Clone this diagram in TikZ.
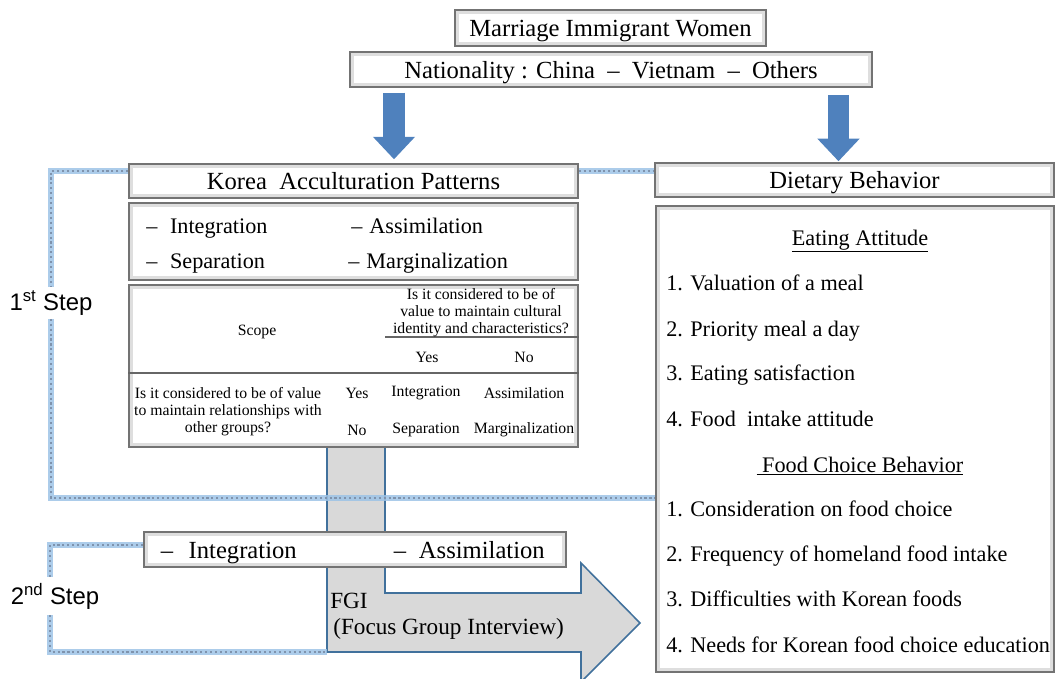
\documentclass[tikz,border=0pt]{standalone}
\usepackage{fontspec}
\setmainfont{Liberation Serif}
\setsansfont{Liberation Sans}
\usetikzlibrary{arrows.meta}

\definecolor{arrowblue}{HTML}{4F81BD}
\definecolor{glowblue}{HTML}{9DC3E6}
\definecolor{dotblue}{HTML}{7F93AD}
\definecolor{fgiline}{HTML}{41719C}
\definecolor{fgifill}{HTML}{D9D9D9}

\tikzset{
	panel/.style={draw=black!55, line width=1.1pt, fill=white, inner sep=0pt, text height=12.5pt, text depth=0pt,
		path picture={\draw[black!13, line width=5pt] (path picture bounding box.south west) rectangle (path picture bounding box.north east);
			\draw[black!22, line width=2pt] (path picture bounding box.south west) rectangle (path picture bounding box.north east);}},
	boxdim/.style 2 args={minimum width=#1*0.025cm, minimum height=#2*0.025cm},
	guide/.style={draw=dotblue, line width=1.5pt, dotted, preaction={draw=glowblue, line width=3.8pt, solid, opacity=.85}},
	downarrow/.style={draw=arrowblue, line width=15pt, -{Triangle[width=29pt,length=16pt]}},
	fgi/.style={draw=fgiline, line width=1.1pt, fill=fgifill},
	big/.style={font=\fontsize{17.5}{20}\selectfont},
	mid/.style={font=\fontsize{15.8}{18}\selectfont},
	small/.style={font=\fontsize{11.2}{12}\selectfont},
	steplbl/.style={font=\sffamily\fontsize{17}{20}\selectfont, inner sep=0pt},
}

\begin{document}
\begin{tikzpicture}[x=0.025cm, y=-0.025cm]
	\useasboundingbox (0,0) rectangle (1055,679);
	\clip (0,0) rectangle (1055,679);
	
	%FGI arrow (under the boxes)
	\draw[fgi] (327,445) -- (327,652) -- (581,652) -- (581,682) -- (640,623) -- (581,563) -- (581,593) -- (385,593) -- (385,445) -- cycle;
	\coordinate (fgicorner) at (327,652);
	
	%Top
	\node[panel, big, boxdim={311}{36}] (mw) at (610.5,28) {Marriage Immigrant Women};
	\node[panel, big, boxdim={522}{35}] (nat) at (611,69.5) {Nationality : China \ – \ Vietnam \ – \ Others};
	
	%Left column
	\node[panel, big, boxdim={449}{34}] (kap) at (353.5,181) {Korea\ \ Acculturation Patterns};
	\node[panel, boxdim={449}{77}] (pat) at (353.5,241.5) {};
	\node[panel, boxdim={449}{162}] (tab) at (353.5,366) {};
	
	%Right column
	\node[panel, big, boxdim={399}{34}] (db) at (854.5,180) {Dietary Behavior};
	\node[panel, boxdim={398}{466}] (dc) at (855,439) {};
	
	%Arrows
	\coordinate (a1) at (394,0);
	\coordinate (a2) at (838.5,0);
	\draw[downarrow] ([yshift=-3.5pt]nat.south -| a1) -- ([yshift=2.8pt]kap.north -| a1);
	\draw[downarrow] ([yshift=-5pt]nat.south -| a2) -- ([yshift=0.7pt]db.north -| a2);
	
	%Steps
	\node[steplbl, minimum height=31*0.025cm] (step1) at (51,303) {1\textsuperscript{st} Step};
	\node[steplbl, minimum height=38*0.025cm] (step2) at (55,596) {2\textsuperscript{nd} Step};
	\coordinate (g1) at (51,171);
	\coordinate (g2) at (51,498);
	\coordinate (g3) at (50,545);
	\coordinate (g4) at (50,652);
	\draw[guide] (kap.west |- g1) -- (g1) -- (step1.north);
	\draw[guide] (step1.south) -- (g2) -- (dc.west |- g2);
	\draw[guide] (kap.east |- g1) -- (db.west |- g1);
	\draw[guide] (step2.south -| g3) -- (g4) -- (fgicorner);
	
	%2nd step box
	\node[panel, boxdim={422}{35}] (s2) at (355,549.5) {};
	\draw[guide] (s2.west |- g3) -- (g3) -- (step2.north -| g3);
	\node[big, anchor=base west] (s2a) at (156,558) {–\hspace{11pt}Integration};
	\node[big, anchor=base west] (s2b) at (389,558) {–\hspace{9pt}Assimilation};
	\node[font=\fontsize{16.5}{19}\selectfont, anchor=base west, inner sep=0pt] (fgi1) at (330,608) {FGI};
	\node[font=\fontsize{16.5}{19}\selectfont, anchor=base west, inner sep=0pt] (fgi2) at (333,634) {(Focus Group Interview)};
	
	%Patterns
	\node[mid, anchor=base west, inner sep=0pt] (p1) at (146,233) {–\hspace{9pt}Integration};
	\node[mid, anchor=base west, inner sep=0pt] (p2) at (351,233) {–\hspace{5pt}Assimilation};
	\node[mid, anchor=base west, inner sep=0pt] (p3) at (146,268) {–\hspace{9pt}Separation};
	\node[mid, anchor=base west, inner sep=0pt] (p4) at (348,268) {–\hspace{5pt}Marginalization};
	
	%Table
	\draw[black!60, line width=0.8pt] (385,337) -- (tab.east |- 0,337);
	\draw[black!60, line width=0.8pt] (tab.west |- 0,373) -- (tab.east |- 0,373);
	\node[small, align=center] (q1) at (481,313) {Is it considered to be of\\value to maintain cultural\\identity and characteristics?};
	\node[small] (scope) at (257,332) {Scope};
	\node[small] (cy) at (427,357) {Yes};
	\node[small] (cn) at (524,357) {No};
	\node[small, align=center] (q2) at (228,412) {Is it considered to be of value\\to maintain relationships with\\other groups?};
	\node[small] (ry) at (357,393) {Yes};
	\node[small] (rn) at (357,430) {No};
	\node[small] (c11) at (426,393) {Integration};
	\node[small] (c12) at (524,393) {Assimilation};
	\node[small] (c21) at (426,430) {Separation};
	\node[small] (c22) at (524,430) {Marginalization};
	
	%Dietary behavior
	\node[mid, anchor=base] (eh) at (860,245) {\underline{Eating Attitude}};
	\foreach \y/\t [count=\i] in {290/Valuation of a meal, 336/Priority meal a day, 380/Eating satisfaction, 426/Food\ \ intake attitude}
		\node[mid, anchor=base west, inner sep=0pt] (e\i) at (666,\y) {\i. \t};
	\node[mid, anchor=base] (fh) at (860,472) {\underline{\ Food Choice Behavior}};
	\foreach \y/\t [count=\i] in {516/Consideration on food choice, 561/Frequency of homeland food intake, 606/Difficulties with Korean foods, 652/Needs for Korean food choice education}
		\node[mid, anchor=base west, inner sep=0pt] (f\i) at (666,\y) {\i. \t};
\end{tikzpicture}
\end{document}
